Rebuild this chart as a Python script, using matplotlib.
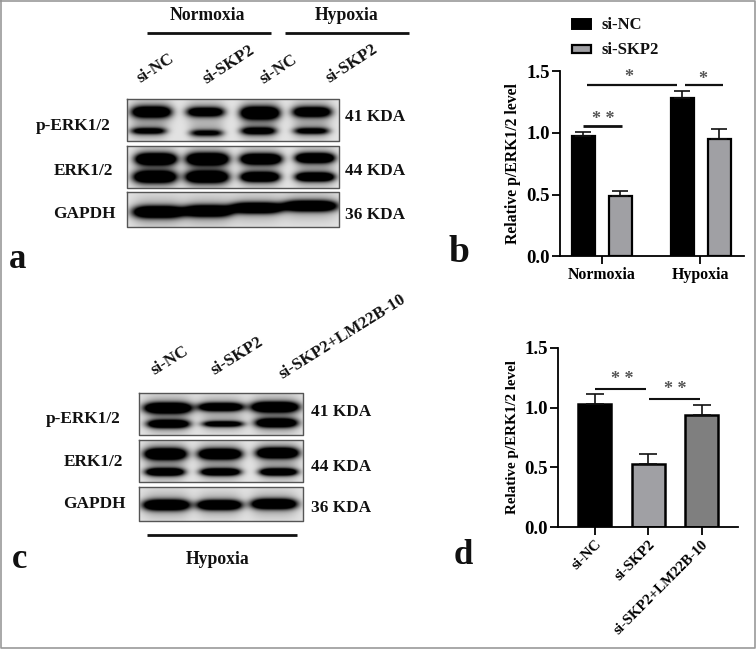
import matplotlib
matplotlib.use('Agg')
import matplotlib.pyplot as plt
import numpy as np

plt.rcParams['font.family'] = ['Liberation Serif', 'DejaVu Serif']
plt.rcParams['font.weight'] = 'bold'
plt.rcParams['axes.labelweight'] = 'bold'

W, H = 756, 651

# bar data, panel b
b_groups = ['Normoxia', 'Hypoxia']
b_nc = [0.97, 1.28]
b_nc_err = [0.04, 0.055]
b_skp2 = [0.49, 0.95]
b_skp2_err = [0.035, 0.08]

# bar data, panel d
d_labels = ['si-NC', 'si-SKP2', 'si-SKP2+LM22B-10']
d_vals = [1.03, 0.53, 0.94]
d_errs = [0.08, 0.08, 0.08]
d_colors = ['#000000', '#a0a0a4', '#7f7f7f']

# blots: box (x0, x1, y0, y1) + bands (x0, x1, y, half height, darkness), all in figure pixels
blot_a1 = ((127, 339, 99, 141), [
    (133, 170, 112, 5.5, 1.4), (188, 223, 112, 4.6, 1.2), (242, 278, 113, 6.0, 1.6), (294, 330, 112, 5.0, 1.3),
    (132, 165, 131, 3.2, 0.9), (191, 222, 133, 3.2, 0.8), (242, 275, 131, 3.6, 1.0), (295, 328, 131, 3.2, 0.9)])
blot_a2 = ((127, 339, 146, 188), [
    (137, 175, 159, 5.4, 1.6), (188, 227, 159, 5.6, 1.6), (242, 280, 159, 5.0, 1.6), (297, 333, 158, 4.6, 1.6),
    (135, 175, 177, 5.6, 1.5), (187, 227, 177, 5.6, 1.5), (242, 278, 177, 4.6, 1.5), (297, 333, 177, 4.2, 1.5)])
blot_a3 = ((127, 339, 192, 227), [
    (135, 182, 212, 5.6, 1.6), (186, 230, 211, 5.4, 1.6), (233, 280, 208, 5.0, 1.6), (285, 335, 206, 5.0, 1.6)])
blot_c1 = ((139, 303, 393, 435), [
    (146, 190, 408, 5.0, 1.6), (200, 242, 407, 4.0, 1.4), (253, 297, 407, 4.8, 1.6),
    (149, 188, 424, 3.8, 1.4), (204, 242, 424, 2.8, 1.1), (257, 296, 423, 4.2, 1.4)])
blot_c2 = ((139, 303, 440, 482), [
    (146, 185, 454, 5.4, 1.6), (200, 240, 454, 5.0, 1.6), (258, 297, 453, 5.0, 1.6),
    (147, 183, 472, 3.6, 1.4), (202, 239, 472, 3.4, 1.4), (261, 296, 472, 3.4, 1.4)])
blot_c3 = ((139, 303, 487, 521), [
    (145, 188, 505, 5.0, 1.6), (199, 240, 505, 4.6, 1.6), (253, 295, 504, 4.8, 1.6)])
blots = [blot_a1, blot_a2, blot_a3, blot_c1, blot_c2, blot_c3]


def bar_axes(fig, x0, x1, y_top, y_zero):
    ax = fig.add_axes([x0 / W, 1 - y_zero / H, (x1 - x0) / W, (y_zero - y_top) / H])
    ax.set_xlim(x0, x1)
    ax.set_ylim(0, 1.5)
    ax.patch.set_alpha(0)
    for s in ['top', 'right']:
        ax.spines[s].set_visible(False)
    for s in ['left', 'bottom']:
        ax.spines[s].set_linewidth(1.3)
    ax.set_yticks([0, 0.5, 1.0, 1.5])
    ax.set_yticklabels(['0.0', '0.5', '1.0', '1.5'], fontsize=13.5)
    ax.tick_params(width=1.3, length=6, pad=1.5)
    return ax


def draw_blot(ax, box, bands):
    x0, x1, y0, y1 = box
    xs = np.arange(x0, x1, 0.5) + 0.25
    ys = np.arange(y0, y1, 0.5) + 0.25
    X, Y = np.meshgrid(xs, ys)
    dark = np.full(X.shape, 0.11)
    for bx0, bx1, by, hh, d in bands:
        cx = (bx0 + bx1) / 2
        hw = (bx1 - bx0) / 2 * 1.08
        across = np.exp(-((X - cx) / hw) ** 4)
        halo = np.exp(-((Y - by) / (hh * 2.6)) ** 2) * 0.28
        core = np.exp(-((Y - by) / hh) ** 2) * d
        dark += across * (core + halo)
    ax.imshow(1 - np.clip(dark, 0, 1), cmap='gray', vmin=0, vmax=1,
              extent=(x0, x1, y1, y0), aspect='auto', zorder=1)
    ax.plot([x0, x1, x1, x0, x0], [y0, y0, y1, y1, y0], color='#555555', lw=1.0, zorder=2)


def main():
    fig = plt.figure(figsize=(W / 100, H / 100), dpi=100)

    # pixel overlay for blots and free text
    ov = fig.add_axes([0, 0, 1, 1])
    for box, bands in blots:
        draw_blot(ov, box, bands)
    ov.set_xlim(0, W)
    ov.set_ylim(H, 0)
    ov.axis('off')

    # image frame
    ov.plot([0.5, W - 1.5, W - 1.5, 0.5, 0.5], [0.5, 0.5, H - 3, H - 3, 0.5], color='#999999', lw=1.2)

    def txt(x, y, s, size=12.4, rot=0, ha='center', color='#111111'):
        ov.text(x, y + 2, s, fontsize=size, rotation=rot, ha=ha, va='center',
                rotation_mode='anchor', color=color)

    def line(x0, x1, y, lw=2.0):
        ov.plot([x0, x1], [y, y], color='#111111', lw=lw, solid_capstyle='butt')

    # panel a text
    txt(207, 14, 'Normoxia', 12.7)
    txt(347, 14, 'Hypoxia', 12.7)
    line(147, 271, 33)
    line(285, 409, 33)
    for x, y, s in [(156, 66, 'si-NC'), (229, 63, 'si-SKP2'), (279, 67, 'si-NC'), (352, 62, 'si-SKP2')]:
        txt(x, y, s, 12.2, rot=33)
    for x, y, s in [(73, 124, 'p-ERK1/2'), (83, 169, 'ERK1/2'), (84, 212, 'GAPDH')]:
        txt(x, y, s)
    for y, s in [(115, '41 KDA'), (169, '44 KDA'), (213, '36 KDA')]:
        txt(345, y, s, ha='left')
    txt(18, 258, 'a', 25)

    # panel c text
    for x, y, s in [(170, 359, 'si-NC'), (237, 354, 'si-SKP2'), (342, 335, 'si-SKP2+LM22B-10')]:
        txt(x, y, s, 12.2, rot=32)
    for x, y, s in [(83, 417, 'p-ERK1/2'), (93, 460, 'ERK1/2'), (94, 502, 'GAPDH')]:
        txt(x, y, s)
    for y, s in [(410, '41 KDA'), (465, '44 KDA'), (506, '36 KDA')]:
        txt(311, y, s, ha='left')
    line(147, 297, 535)
    txt(218, 557, 'Hypoxia', 12.7)
    txt(20, 557, 'c', 25)

    # panel b
    ax = bar_axes(fig, 560, 744, 71, 256.3)
    ax.bar([583, 682], b_nc, width=23, color='#000000', edgecolor='#000000', linewidth=1.6,
           yerr=[[0, 0], b_nc_err], error_kw=dict(ecolor='#111111', elinewidth=1.2, capsize=5.5, capthick=1.2))
    ax.bar([620, 719], b_skp2, width=23, color='#a0a0a4', edgecolor='#000000', linewidth=1.6,
           yerr=[[0, 0], b_skp2_err], error_kw=dict(ecolor='#111111', elinewidth=1.2, capsize=5.5, capthick=1.2))
    ax.set_xticks([601.7, 700])
    ax.set_xticklabels(b_groups, fontsize=11.4)
    ax.set_ylabel('Relative p/ERK1/2 level', fontsize=11.3, labelpad=4)

    # legend for b, placed by hand
    ov.add_patch(plt.Rectangle((572, 19), 19, 10, fc='#000000', ec='#000000', lw=1.4))
    ov.add_patch(plt.Rectangle((572, 45), 19, 8, fc='#a0a0a4', ec='#000000', lw=1.6))
    txt(602, 23, 'si-NC', 12, ha='left')
    txt(602, 48, 'si-SKP2', 12, ha='left')
    line(583, 622, 126)
    line(587, 677, 85, lw=1.6)
    line(685, 723, 85, lw=1.6)
    txt(603, 117, '* *', 13, color='#555555')
    txt(629, 75, '*', 13, color='#555555')
    txt(703, 77, '*', 13, color='#555555')
    txt(459, 250, 'b', 27)

    # panel d
    ax2 = bar_axes(fig, 558, 738, 347.7, 527.3)
    d_x = [594.5, 648, 701.5]
    ax2.bar(d_x, d_vals, width=33, color=d_colors, edgecolor='#000000', linewidth=1.8,
            yerr=[[0, 0, 0], d_errs], error_kw=dict(ecolor='#111111', elinewidth=1.2, capsize=6.5, capthick=1.2))
    ax2.set_xticks(d_x)
    ax2.set_xticklabels(d_labels, fontsize=10.6, rotation=45, ha='right', rotation_mode='anchor')
    ax2.set_ylabel('Relative p/ERK1/2 level', fontsize=10.9, labelpad=4)
    line(595, 646, 389, lw=1.5)
    line(649, 700, 399, lw=1.5)
    txt(622, 378, '* *', 13, color='#555555')
    txt(675, 388, '* *', 13, color='#555555')
    txt(463, 553, 'd', 25)

    fig.savefig('out.png', dpi=100)


if __name__ == "__main__":
    main()
